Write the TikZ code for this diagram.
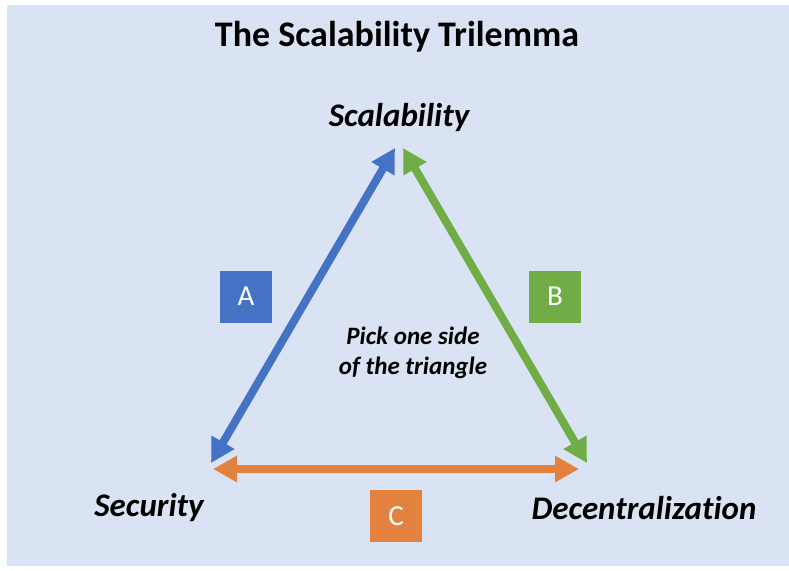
\documentclass[tikz,border=0pt]{standalone}
\usepackage{fontspec}
\setmainfont{Carlito}[Ligatures={NoCommon,NoContextual}]
\usetikzlibrary{arrows.meta}
\definecolor{bgc}{HTML}{DAE3F3}
\definecolor{cblue}{HTML}{4472C4}
\definecolor{cgreen}{HTML}{70AD47}
\definecolor{corange}{HTML}{E3823F}
\tikzset{
  arr/.style={line width=8pt, {Triangle[width=25pt,length=24pt]}-{Triangle[width=25pt,length=24pt]}},
  lbox/.style={minimum width=52pt, minimum height=52pt, inner sep=0pt, text=white, font=\fontsize{29}{34}\selectfont},
  vlabel/.style={font=\fontsize{33}{38}\selectfont\bfseries\itshape, inner sep=0pt},
}
\begin{document}
\begin{tikzpicture}[x=1pt,y=-1pt]
\useasboundingbox (0,0) rectangle (789,570);
\fill[bgc] (7,5) rectangle (789,566);
\node[font=\fontsize{36}{42}\selectfont\bfseries, inner sep=0pt] (title) at (397,37) {The Scalability Trilemma};
\node[vlabel] (scal) at (399,118) {Scalability};
\node[vlabel] (sec) at (149,508) {Security};
\node[vlabel] (dec) at (644,508) {Decentralization};
\node[font=\fontsize{25}{30}\selectfont\bfseries\itshape, align=center, inner sep=0pt] (pick) at (413,353) {Pick one side\\of the triangle};
\coordinate (blueTop) at (395,148);
\coordinate (blueBot) at (211,463);
\coordinate (greenTop) at (403,148);
\coordinate (greenBot) at (587,463);
\coordinate (orL) at (213,469);
\coordinate (orR) at (579,469);
\draw[arr, cblue] (blueBot) -- (blueTop);
\draw[arr, cgreen] (greenTop) -- (greenBot);
\draw[arr, corange] (orL) -- (orR);
\node[lbox, fill=cblue] (A) at (246,296.5) {A};
\node[lbox, fill=cgreen] (B) at (555,296.5) {B};
\node[lbox, fill=corange] (C) at (396,516) {C};
\end{tikzpicture}
\end{document}
